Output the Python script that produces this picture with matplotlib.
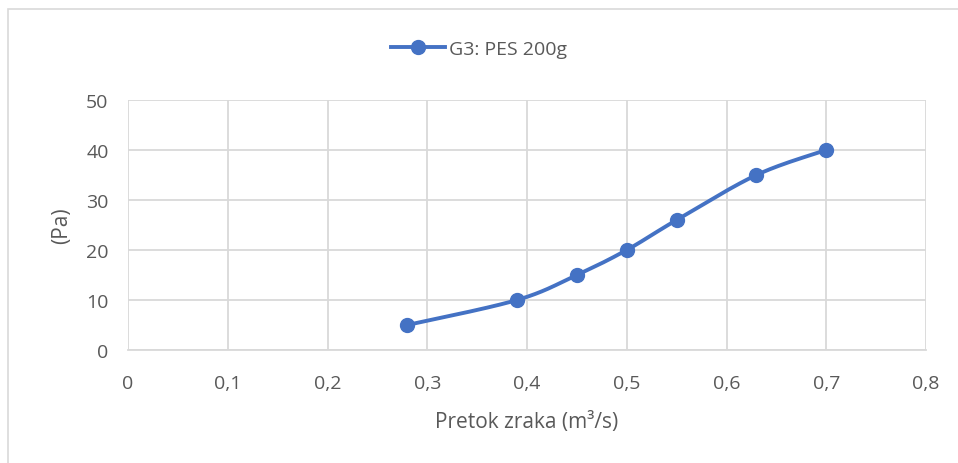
import numpy as np
import matplotlib
matplotlib.use("Agg")
import matplotlib.pyplot as plt
from matplotlib.patches import Rectangle

x_vals = [0.28, 0.39, 0.45, 0.5, 0.55, 0.63, 0.7]
y_vals = [5, 10, 15, 20, 26, 35, 40]
series_name = "G3: PES 200g"
x_ticks = [0, 0.1, 0.2, 0.3, 0.4, 0.5, 0.6, 0.7, 0.8]
y_ticks = [0, 10, 20, 30, 40, 50]

plt.rcParams['font.family'] = ['Open Sans', 'DejaVu Sans']
W, H = 958, 464
fig = plt.figure(figsize=(W/100, H/100), dpi=100)
fig.patches.append(Rectangle((8/W, -0.1), 1.2, 1 - 10/H + 0.1, transform=fig.transFigure,
                             fill=False, edgecolor='#d9d9d9', linewidth=1.2))

ax = fig.add_axes([128/W, 1-351/H, (926-128)/W, (351-101)/H])

def smooth(xs, ys, n=30):
    xs = np.asarray(xs, float); ys = np.asarray(ys, float)
    px = np.concatenate([[xs[0]], xs, [xs[-1]]])
    py = np.concatenate([[ys[0]], ys, [ys[-1]]])
    ox, oy = [], []
    for i in range(1, len(px) - 2):
        p0 = np.array([px[i], py[i]]); p3 = np.array([px[i+1], py[i+1]])
        c1 = p0 + (np.array([px[i+1], py[i+1]]) - np.array([px[i-1], py[i-1]])) / 6
        c2 = p3 - (np.array([px[i+2], py[i+2]]) - np.array([px[i], py[i]])) / 6
        t = np.linspace(0, 1, n)[:, None]
        b = (1-t)**3*p0 + 3*(1-t)**2*t*c1 + 3*(1-t)*t**2*c2 + t**3*p3
        ox.extend(b[:, 0]); oy.extend(b[:, 1])
    return ox, oy

color = '#4472c4'
sx, sy = smooth(x_vals, y_vals)
ax.plot(sx, sy, color=color, linewidth=2.8, solid_capstyle='round', zorder=3)
ax.plot(x_vals, y_vals, 'o', color=color, markersize=10, zorder=4)
ax.plot([], [], '-o', color=color, linewidth=2.8, markersize=10, label=series_name)

ax.set_xlim(0, 0.8)
ax.set_ylim(0, 50)
ax.set_xticks(x_ticks)
ax.set_yticks(y_ticks)
ax.set_xticklabels([('%g' % v).replace('.', ',') for v in x_ticks])
ax.set_yticklabels([str(v) for v in y_ticks])
ax.grid(True, color='#d9d9d9', linewidth=1.3)
ax.set_axisbelow(True)
for s in ['top', 'right', 'left']:
    ax.spines[s].set_visible(False)
ax.spines['bottom'].set_color('#d9d9d9')
ax.spines['bottom'].set_linewidth(1.3)
ax.tick_params(length=0, labelsize=14, colors='#595959')
ax.tick_params(axis='x', pad=17)
ax.tick_params(axis='y', pad=14)
ax.set_xlabel('Pretok zraka (m³/s)', fontsize=15, color='#595959', labelpad=14)
ax.set_ylabel('(Pa)', fontsize=15, color='#595959', labelpad=10)

leg = fig.legend(loc='center', bbox_to_anchor=(0.5, 1-50/H), frameon=False,
                 fontsize=14, handlelength=2.8, handletextpad=0.2)
for t in leg.get_texts():
    t.set_color('#595959')

fig.savefig('out.png', dpi=100)
